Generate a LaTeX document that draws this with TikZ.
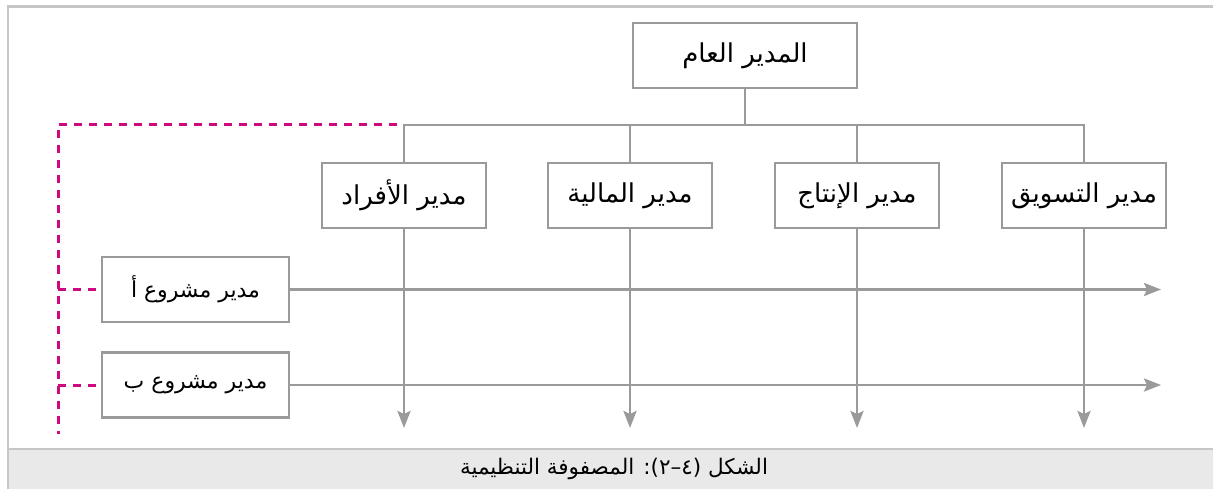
\documentclass[tikz,border=0pt]{standalone}
\usepackage{fontspec}
\newfontfamily\arabicfont[Script=Arabic]{DejaVu Sans}
\TeXXeTstate=1
\usetikzlibrary{arrows.meta}
\definecolor{linegray}{HTML}{9A9A9A}
\definecolor{framegray}{HTML}{C6C6C6}
\definecolor{bandgray}{HTML}{E9E9E9}
\definecolor{magentadash}{HTML}{CC0A7D}
\newcommand{\artext}[1]{\beginR #1\endR}
\tikzset{
  orgbox/.style={draw=linegray, line width=2.8pt, fill=white, minimum width=164pt, minimum height=65pt, inner sep=0pt, font=\arabicfont\fontsize{26}{30}\selectfont},
  topbox/.style={orgbox, minimum width=224pt},
  projbox/.style={orgbox, minimum width=187pt, font=\arabicfont\fontsize{22}{26}\selectfont},
  conn/.style={draw=linegray, line width=2.8pt},
  arrowconn/.style={conn, -{Stealth[length=17pt,width=13pt,inset=3pt]}},
  magdash/.style={draw=magentadash, line width=3pt, dash pattern=on 8pt off 7pt},
  framerule/.style={draw=framegray, line width=2.5pt}
}
\begin{document}
\begin{tikzpicture}[x=1pt,y=-1pt]
\useasboundingbox (0,0) rectangle (1213,489);
% frame and caption band
\fill[bandgray] (9,449) rectangle (1213,489);
\draw[framerule] (1213,6.5) -- (8,6.5) -- (8,489);
\draw[framerule] (9,449) -- (1213,449);
\node[font=\arabicfont\fontsize{21.5}{25}\selectfont] (cap) at (614,469) {\artext{الشكل \beginL(٤–٢)\endL: المصفوفة التنظيمية}};
% nodes
\node[topbox] (gm) at (745,55.5) {\artext{المدير العام}};
\node[orgbox] (hr) at (404,195.5) {\artext{مدير الأفراد}};
\node[orgbox] (fin) at (630,195.5) {\artext{مدير المالية}};
\node[orgbox] (prod) at (857,195.5) {\artext{مدير الإنتاج}};
\node[orgbox] (mkt) at (1084,195.5) {\artext{مدير التسويق}};
\node[projbox] (pa) at (195.5,289.5) {\artext{مدير مشروع أ}};
\node[projbox] (pb) at (195.5,385) {\artext{مدير مشروع ب}};
\coordinate (bus) at (745,125);
\coordinate (hend) at (1161,0);
\coordinate (vend) at (0,428);
\coordinate (dstart) at (397,124.5);
\coordinate (dcorner) at (58,124.5);
\coordinate (dend) at (58,434);
% tree connectors
\draw[conn] (gm.south) -- (bus);
\draw[conn] (bus) -| (hr.north);
\draw[conn] (bus) -| (fin.north);
\draw[conn] (bus) -| (prod.north);
\draw[conn] (bus) -| (mkt.north);
% matrix lines
\draw[arrowconn] (pa.east) -- (pa.east -| hend);
\draw[arrowconn] (pb.east) -- (pb.east -| hend);
\draw[arrowconn] (hr.south) -- (hr.south |- vend);
\draw[arrowconn] (fin.south) -- (fin.south |- vend);
\draw[arrowconn] (prod.south) -- (prod.south |- vend);
\draw[arrowconn] (mkt.south) -- (mkt.south |- vend);
% dashed project links
\draw[magdash] (dstart) -- (dcorner) -- (dend);
\draw[magdash] (pa.west -| dcorner) -- (pa.west);
\draw[magdash] (pb.west -| dcorner) -- (pb.west);
\end{tikzpicture}
\end{document}
